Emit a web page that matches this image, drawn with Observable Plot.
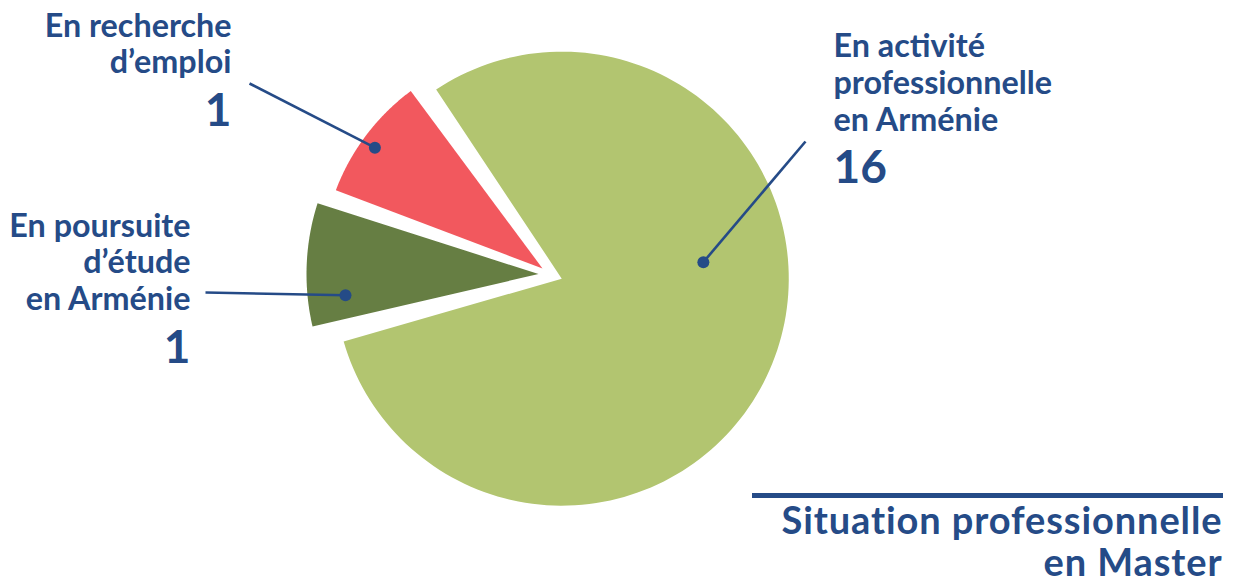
<!DOCTYPE html>
<html>
<head>
<meta charset="utf-8">
<script src="https://cdn.jsdelivr.net/npm/d3@7"></script>
<script src="https://cdn.jsdelivr.net/npm/@observablehq/plot@0.6"></script>
<style>
  html, body { margin: 0; padding: 0; background: #fff; }
  #chart { width: 1235px; height: 585px; }
</style>
</head>
<body>
<div id="chart"></div>
<script>
// ---------------- DATA ----------------
const categories = ["activite", "etude", "recherche"];
const counts = [16, 1, 1];
// slice sizes as drawn in the reference (percent of the circle)
const drawnShare = [80.7, 9.4, 9.9];
const labelLines = [
  ["En activité", "professionnelle", "en Arménie"],
  ["En poursuite", "d’étude", "en Arménie"],
  ["En recherche", "d’emploi"]
];
const titleLines = ["Situation professionnelle", "en Master"];
const colors = ["#b2c570", "#667e43", "#f2585e"];

// ---------------- LAYOUT ----------------
const W = 1235, H = 585;
const navy = "#254b87";
const font = "Lato, 'Open Sans', sans-serif";
const deg = Math.PI / 180;
const center = [550, 274];
const START = 324.9 * deg;
const PAD = 3 * deg;
const labelSize = 32.3, numberSize = 46, titleSize = 38;
// per-slice presentation: explode offset, radius, callout dot (angle offset from mid, radius fraction)
const sliceStyle = [
  {explode: 12, r: 227, dotA: -26.8, dotF: 0.628},
  {explode: 12, r: 232, dotA: -8.6, dotF: 0.837},
  {explode: 10, r: 221, dotA: -1.3, dotF: 0.935}
];
// label placement: leader end, text x, anchor, first baseline, line gap, number baseline
const labelStyle = [
  {lx: 805, ly: 141, tx: 833, anchor: "start", y0: 56, gap: 37, ny: 182},
  {lx: 205, ly: 292, tx: 190, anchor: "end", y0: 236, gap: 36.5, ny: 362},
  {lx: 249, ly: 83, tx: 231, anchor: "end", y0: 36, gap: 36, ny: 125}
];

const rows = categories.map((c, i) => ({key: c, count: counts[i], share: drawnShare[i], i}));
const arcs = d3.pie().sort(null).value(d => d.share)
  .startAngle(START).endAngle(START + 2 * Math.PI)(rows);

const polyPts = [];
const leaders = [];
arcs.forEach(a => {
  const i = a.data.i, s = sliceStyle[i];
  const mid = (a.startAngle + a.endAngle) / 2;
  const cx = center[0] + s.explode * Math.sin(mid);
  const cy = center[1] - s.explode * Math.cos(mid);
  const a0 = a.startAngle + PAD / 2, a1 = a.endAngle - PAD / 2;
  polyPts.push({key: a.data.key, x: cx, y: cy});
  const n = 160;
  for (let k = 0; k <= n; k++) {
    const t = a0 + (a1 - a0) * k / n;
    polyPts.push({key: a.data.key, x: cx + s.r * Math.sin(t), y: cy - s.r * Math.cos(t)});
  }
  polyPts.push({key: a.data.key, x: cx, y: cy});
  const da = mid + s.dotA * deg;
  const L = labelStyle[i];
  leaders.push({
    key: a.data.key,
    x1: cx + s.r * s.dotF * Math.sin(da), y1: cy - s.r * s.dotF * Math.cos(da),
    x2: L.lx, y2: L.ly
  });
});

// one multi-line text block per label, plus the count
const labelBlocks = rows.map(d => {
  const L = labelStyle[d.i];
  const lines = labelLines[d.i];
  return {x: L.tx, y: L.y0 + (lines.length - 1) * L.gap, text: lines.join("\n"),
          anchor: L.anchor, lh: L.gap / labelSize};
});
const numberRows = rows.map(d => {
  const L = labelStyle[d.i];
  return {x: L.tx, y: L.ny, text: String(d.count), anchor: L.anchor};
});

const textMarks = [];
for (const anchor of ["start", "end"]) {
  for (const b of labelBlocks.filter(t => t.anchor === anchor)) {
    textMarks.push(Plot.text([b], {x: "x", y: "y", text: "text", textAnchor: anchor, lineAnchor: "bottom",
      lineHeight: b.lh, fontSize: labelSize, fontWeight: "bold", fill: navy, fontFamily: font}));
  }
  textMarks.push(Plot.text(numberRows.filter(t => t.anchor === anchor), {x: "x", y: "y", text: "text",
    textAnchor: anchor, lineAnchor: "bottom", fontSize: numberSize, fontWeight: "bold", fill: navy, fontFamily: font}));
}

const plot = Plot.plot({
  width: W, height: H, margin: 0,
  style: {background: "#fff", overflow: "visible"},
  x: {domain: [0, W], range: [0, W], axis: null},
  y: {domain: [0, H], range: [0, H], axis: null},
  color: {domain: categories, range: colors},
  marks: [
    Plot.line(polyPts, {x: "x", y: "y", z: "key", fill: "key", stroke: null, curve: "linear"}),
    Plot.link(leaders, {x1: "x1", y1: "y1", x2: "x2", y2: "y2", stroke: navy, strokeWidth: 2.6}),
    Plot.dot(leaders, {x: "x1", y: "y1", r: 6, fill: navy, stroke: null}),
    ...textMarks,
    Plot.ruleY([495], {x1: 752, x2: 1223, stroke: navy, strokeWidth: 5}),
    Plot.text([titleLines.join("\n")], {x: 1222, y: 575.5, text: d => d, textAnchor: "end", lineAnchor: "bottom",
      lineHeight: 42 / titleSize, fontSize: titleSize, fontWeight: "bold", fill: navy, fontFamily: font})
  ]
});
// widen the title's letter spacing slightly (Calibri-like width)
d3.select(plot).selectAll("text")
  .filter(function() { return this.textContent.startsWith("Situation"); })
  .style("letter-spacing", "0.9px");
document.getElementById("chart").appendChild(plot);
</script>
</body>
</html>
